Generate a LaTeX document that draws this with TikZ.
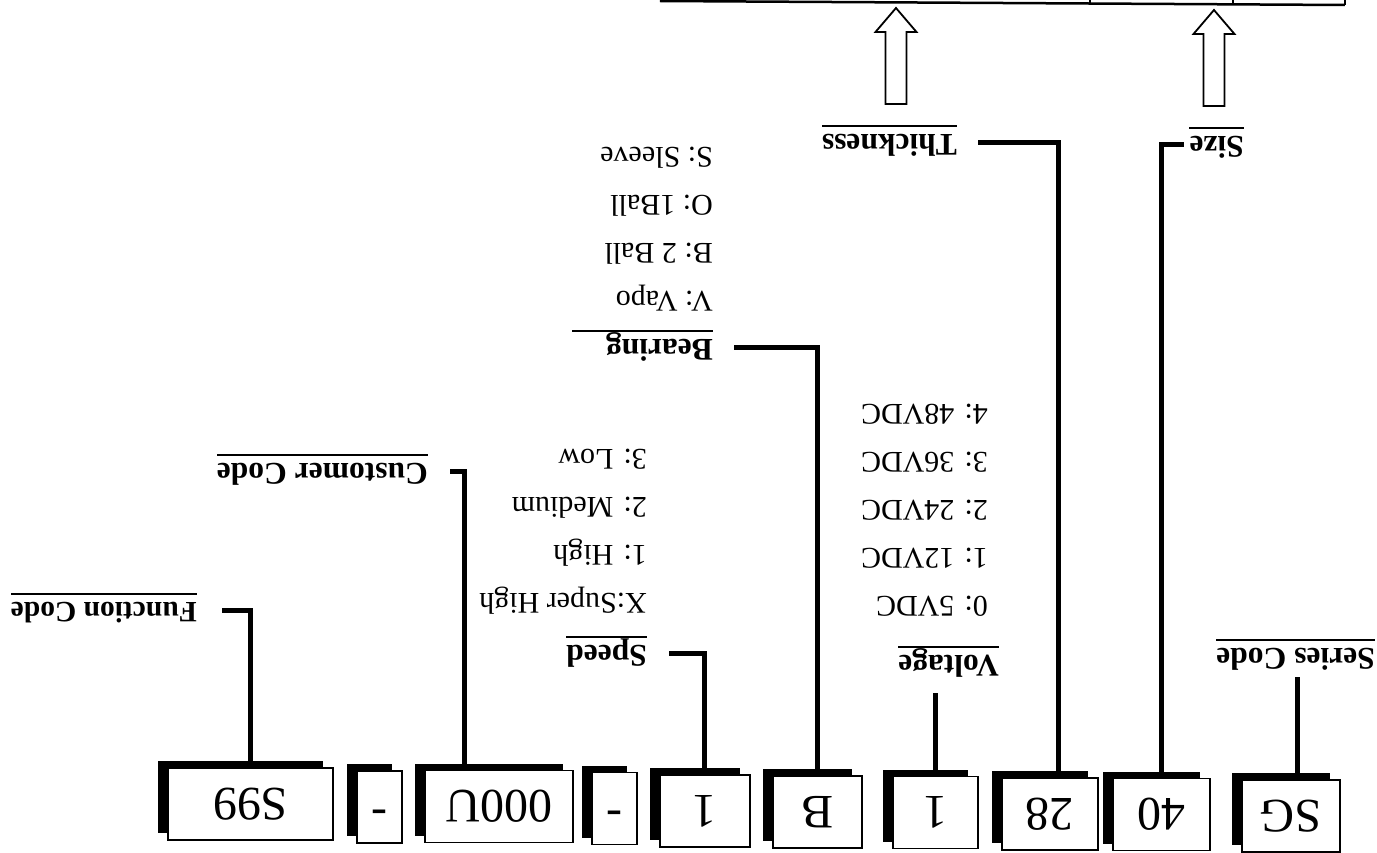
\documentclass[tikz,border=0pt]{standalone}
\usepackage{fontspec}
\setmainfont{Liberation Serif}

% code box with its drop shadow: name, x, y, width, text
\newcommand{\partcode}[5]{%
  \fill (#2-#4/2+10, #3-43) rectangle ++(#4, 72);
  \node[partbox, minimum width=#4pt] (#1) at (#2,#3) {#5};}
% hollow block arrow: x of tip, y of tip
\newcommand{\blockarrow}[2]{%
  \draw[hollow] (#1-10.5,#2+96) -- (#1+10.5,#2+96) -- (#1+10.5,#2+24)
    -- (#1+20.5,#2+24) -- (#1,#2) -- (#1-20.5,#2+24) -- (#1-10.5,#2+24) -- cycle;}

\tikzset{
  partbox/.style={draw, line width=1.8pt, fill=white, minimum height=72pt,
    inner sep=0pt, font=\fontsize{48}{48}\selectfont},
  head/.style={inner sep=0pt, text height=24pt, text depth=8pt, anchor=south west,
    font=\fontsize{31.5}{36}\selectfont\bfseries},
  items/.style={inner sep=0pt, align=left, anchor=north west,
    font=\fontsize{30}{48}\selectfont},
  link/.style={line width=5pt},
  uline/.style={line width=2.2pt},
  hollow/.style={line width=1.8pt, line join=miter},
  frame/.style={line width=2.5pt},
}

\begin{document}
\begin{tikzpicture}[x=1pt, y=1pt, rotate=180, transform shape]
  \path[fill=white, use as bounding box] (0,0) rectangle (1377,853);

  % the code
  \partcode{sg}{86}{816}{98}{SG}
  \partcode{s40}{215.5}{814.5}{97}{40}
  \partcode{s28}{327}{814}{96}{28}
  \partcode{volt}{441.5}{812.5}{85}{1}
  \partcode{bear}{559.5}{812}{89}{B}
  \partcode{spd}{672}{811}{90}{1}
  \partcode{dash1}{762.5}{808.5}{45}{-}
  \partcode{cust}{878}{806.5}{148}{000U}
  \partcode{dash2}{997.5}{807}{45}{-}
  \partcode{func}{1126.5}{804}{165}{S99}

  % headings
  \node[head] (serlbl) at (2,640) {Series Code};
  \node[head] (sizelbl) at (133,128) {Size};
  \node[head] (thklbl) at (420,126) {Thickness};
  \node[head] (voltlbl) at (378,647) {Voltage};
  \node[head] (bearlbl) at (664,331) {Bearing};
  \node[head] (spdlbl) at (730,637) {Speed};
  \node[head] (custlbl) at (949,455) {Customer Code};
  \node[head, font=\fontsize{29.5}{36}\selectfont\bfseries] (funclbl) at (1180,594) {Function Code};
  \foreach \l in {serlbl,sizelbl,thklbl,voltlbl,spdlbl,custlbl,funclbl}
    \draw[uline] (\l.south west) -- (\l.south east);
  \draw[uline] (bearlbl.south west) -- ([xshift=34pt]bearlbl.south east);

  % options
  \node[items] (voltopt) at (389,617) {0: 5VDC\\1: 12VDC\\2: 24VDC\\3: 36VDC\\4: 48VDC};
  \node[items] (bearopt) at (664,311) {V: Vapo\\B: 2 Ball\\O: 1Ball\\S: Sleeve};
  \node[items] (spdopt) at (730,615) {X:Super High\\1: High\\2: Medium\\3: Low};

  % leaders
  \coordinate (ser) at ([xshift=-7pt]sg.south);
  \coordinate (thk) at ([xshift=-9pt]s28.south);
  \coordinate (cst) at ([xshift=34pt]cust.south);
  \draw[link, shorten >=5pt] (ser) -- (ser |- serlbl.north);
  \draw[link, shorten >=5pt] (s40.south) |- (sizelbl.east);
  \draw[link, shorten >=21pt] (thk) |- (thklbl.west);
  \draw[link, shorten >=14pt] (volt.south) -- (volt.south |- voltlbl.north);
  \draw[link, shorten >=21pt] (bear.south) |- (bearlbl.west);
  \draw[link, shorten >=22pt] (spd.south) |- (spdlbl.west);
  \draw[link, shorten >=22pt] (cst) |- (custlbl.west);
  \draw[link, shorten >=25pt] (func.south) |- (funclbl.west);

  % arrows down to the table
  \blockarrow{163}{10}
  \blockarrow{481}{8}
  \draw[frame] (32,5) -- (717,1);
  \draw[frame] (32,5) -- (32,-5) (144,4.5) -- (144,-5) (287,4) -- (287,-5);
\end{tikzpicture}
\end{document}
